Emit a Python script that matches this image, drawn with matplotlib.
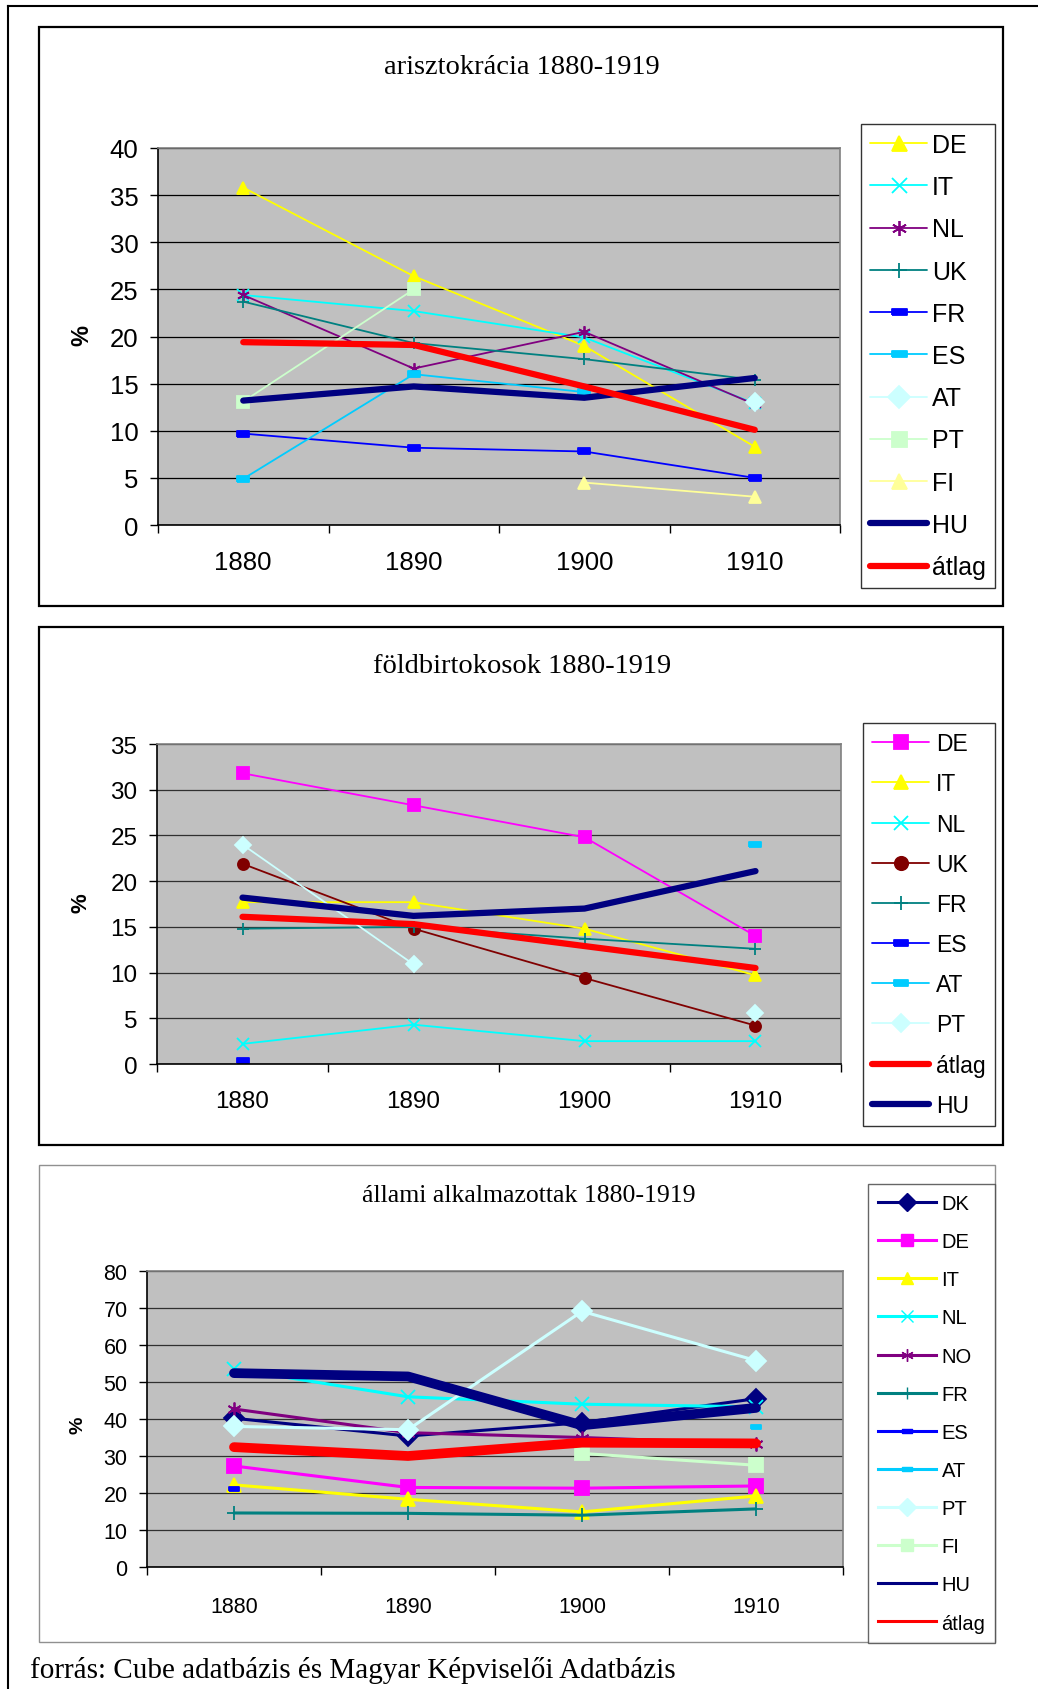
import numpy as np
import matplotlib.pyplot as plt
from matplotlib.patches import Rectangle
from matplotlib.lines import Line2D

nan = np.nan
years = ['1880', '1890', '1900', '1910']

# arisztokrácia 1880-1919
ar_DE = [35.8, 26.4, 19.0, 8.3]
ar_IT = [24.4, 22.7, 19.9, 12.9]
ar_NL = [24.4, 16.6, 20.5, 12.8]
ar_UK = [23.7, 19.3, 17.6, 15.4]
ar_FR = [9.7, 8.2, 7.8, 5.0]
ar_ES = [4.9, 16.0, 14.1, nan]
ar_AT = [nan, nan, nan, 13.0]
ar_PT = [13.1, 25.0, nan, nan]
ar_FI = [nan, nan, 4.5, 3.0]
ar_HU = [13.2, 14.7, 13.5, 15.6]
ar_atlag = [19.4, 19.1, 14.7, 10.1]

# földbirtokosok 1880-1919
fb_DE = [31.8, 28.3, 24.8, 14.0]
fb_IT = [17.7, 17.7, 14.8, 9.7]
fb_NL = [2.2, 4.3, 2.5, 2.5]
fb_UK = [21.9, 14.8, 9.4, 4.2]
fb_FR = [14.8, 15.0, 13.7, 12.6]
fb_ES = [0.4, nan, nan, nan]
fb_AT = [nan, nan, nan, 24.1]
fb_PT = [24.0, 10.9, nan, 5.6]
fb_atlag = [16.1, 15.3, 12.9, 10.5]
fb_HU = [18.2, 16.2, 17.0, 21.1]

# állami alkalmazottak 1880-1919
al_DK = [40.2, 35.4, 39.0, 45.5]
al_DE = [27.3, 21.5, 21.3, 21.9]
al_IT = [22.2, 18.3, 14.9, 19.2]
al_NL = [53.5, 46.0, 44.0, 43.3]
al_NO = [42.7, 36.3, 35.0, 33.3]
al_FR = [14.6, 14.5, 14.0, 15.7]
al_ES = [21.2, nan, nan, nan]
al_AT = [nan, nan, nan, 37.9]
al_PT = [38.0, 37.1, 69.1, 55.8]
al_FI = [nan, nan, 30.7, 27.5]
al_HU = [52.4, 51.5, 38.3, 43.0]
al_atlag = [32.4, 30.0, 33.6, 33.4]

W, H = 1038, 1690
SANS = 'Liberation Sans'
SERIF = 'Liberation Serif'
plt.rcParams['font.family'] = SANS

dash = [(-1, -0.45), (1, -0.45), (1, 0.45), (-1, 0.45), (-1, -0.45)]
aster = (6, 2, 0)


def fbox(x0, y0, x1, y1):
    return [x0 / W, 1 - y1 / H, (x1 - x0) / W, (y1 - y0) / H]


def frame(fig, x0, y0, x1, y1, color='black', lw=1.6):
    fig.add_artist(Rectangle((x0 / W, 1 - y1 / H), (x1 - x0) / W, (y1 - y0) / H,
                             transform=fig.transFigure, fill=False, ec=color, lw=lw))


def setup(ax, ymax, ystep, fs, padx, gridc='black'):
    ax.set_facecolor('#C0C0C0')
    ax.set_xlim(-0.5, 3.5)
    ax.set_ylim(0, ymax)
    ax.set_yticks(np.arange(0, ymax + 1, ystep))
    ax.set_xticks(range(4))
    ax.set_xticklabels(years)
    ax.set_xticks(np.arange(-0.5, 4, 1), minor=True)
    ax.tick_params(axis='x', which='major', length=0, pad=padx, labelsize=fs)
    ax.tick_params(axis='x', which='minor', length=6, width=1)
    ax.tick_params(axis='y', length=6, width=1, pad=8, labelsize=fs)
    ax.grid(axis='y', color=gridc, lw=0.9)
    ax.set_axisbelow(True)
    for s in ['top', 'right']:
        ax.spines[s].set_color('#808080')
        ax.spines[s].set_linewidth(1.2)
    for s in ['left', 'bottom']:
        ax.spines[s].set_linewidth(1.2)


def draw(ax, series, lw, ms, thick_lw=4.5, dash_ms=None):
    x = np.arange(4)
    handles = []
    for label, vals, color, marker, thick in series:
        w = thick_lw if thick else lw
        size = dash_ms if (dash_ms and marker is dash) else ms
        line, = ax.plot(x, vals, color=color, lw=w, marker=marker, ms=size,
                        mec=color, mfc=color, mew=1.3, label=label,
                        solid_capstyle='round', clip_on=False)
        handles.append(line)
    return handles


fig = plt.figure(figsize=(W / 100, H / 100), dpi=100)

# outer border
fig.add_artist(Line2D([8 / W, 8 / W], [0, 1 - 7 / H], transform=fig.transFigure, color='black', lw=1.5))
fig.add_artist(Line2D([8 / W, 1], [1 - 7 / H, 1 - 7 / H], transform=fig.transFigure, color='black', lw=1.5))

# ---- panel 1 ----
frame(fig, 39, 28, 1003, 607)
ax1 = fig.add_axes(fbox(158, 149, 840, 526))
setup(ax1, 40, 5, 18.5, 18)
s1 = [('DE', ar_DE, '#FFFF00', '^', False),
      ('IT', ar_IT, '#00FFFF', 'x', False),
      ('NL', ar_NL, '#800080', aster, False),
      ('UK', ar_UK, '#008080', '+', False),
      ('FR', ar_FR, '#0000FF', dash, False),
      ('ES', ar_ES, '#00CCFF', dash, False),
      ('AT', ar_AT, '#CCFFFF', 'D', False),
      ('PT', ar_PT, '#CCFFCC', 's', False),
      ('FI', ar_FI, '#FFFF99', '^', False),
      ('HU', ar_HU, '#000080', None, True),
      ('átlag', ar_atlag, '#FF0000', None, True)]
h1 = draw(ax1, s1, 1.3, 9)
fig.text(522 / W, 1 - 68 / H, 'arisztokrácia 1880-1919', ha='center', va='center',
         family=SERIF, fontsize=20.5)
fig.text(82 / W, 1 - 336 / H, '%', rotation=90, ha='center', va='center',
         fontsize=17, fontweight='bold')
lg1 = fig.legend(handles=h1, loc='upper left', bbox_to_anchor=(861 / W, 1 - 125 / H),
                 fontsize=18, numpoints=1, handlelength=2.3, handletextpad=0.2,
                 labelspacing=0.73, borderpad=0.35, borderaxespad=0, frameon=True,
                 fancybox=False, edgecolor='black', markerscale=1.2)
lg1.get_frame().set_linewidth(1.0)

# ---- panel 2 ----
frame(fig, 39, 628, 1003, 1146)
ax2 = fig.add_axes(fbox(157, 745, 841, 1065))
setup(ax2, 35, 5, 17.5, 19, gridc='#303030')
s2 = [('DE', fb_DE, '#FF00FF', 's', False),
      ('IT', fb_IT, '#FFFF00', '^', False),
      ('NL', fb_NL, '#00FFFF', 'x', False),
      ('UK', fb_UK, '#800000', 'o', False),
      ('FR', fb_FR, '#008080', '+', False),
      ('ES', fb_ES, '#0000FF', dash, False),
      ('AT', fb_AT, '#00CCFF', dash, False),
      ('PT', fb_PT, '#CCFFFF', 'D', False),
      ('átlag', fb_atlag, '#FF0000', None, True),
      ('HU', fb_HU, '#000080', None, True)]
h2 = draw(ax2, s2, 1.3, 8)
fig.text(522 / W, 1 - 667 / H, 'földbirtokosok 1880-1919', ha='center', va='center',
         family=SERIF, fontsize=20.5)
fig.text(81 / W, 1 - 903 / H, '%', rotation=90, ha='center', va='center',
         fontsize=16, fontweight='bold')
lg2 = fig.legend(handles=h2, loc='upper left', bbox_to_anchor=(863 / W, 1 - 724 / H),
                 fontsize=16.5, numpoints=1, handlelength=2.5, handletextpad=0.3,
                 labelspacing=0.75, borderpad=0.4, borderaxespad=0, frameon=True,
                 fancybox=False, edgecolor='black', markerscale=1.2)
lg2.get_frame().set_linewidth(1.0)

# ---- panel 3 ----
frame(fig, 39, 1166, 995, 1643, color='#909090', lw=1.0)
ax3 = fig.add_axes(fbox(147, 1272, 843, 1568))
setup(ax3, 80, 10, 15.5, 21, gridc='#303030')
s3 = [('DK', al_DK, '#000080', 'D', False),
      ('DE', al_DE, '#FF00FF', 's', False),
      ('IT', al_IT, '#FFFF00', '^', False),
      ('NL', al_NL, '#00FFFF', 'x', False),
      ('NO', al_NO, '#800080', aster, False),
      ('FR', al_FR, '#008080', '+', False),
      ('ES', al_ES, '#0000FF', dash, False),
      ('AT', al_AT, '#00CCFF', dash, False),
      ('PT', al_PT, '#CCFFFF', 'D', False),
      ('FI', al_FI, '#CCFFCC', 's', False),
      ('HU', al_HU, '#000080', None, True),
      ('átlag', al_atlag, '#FF0000', None, True)]
h3 = draw(ax3, s3, 2.2, 10, thick_lw=7, dash_ms=7)
fig.text(529 / W, 1 - 1196 / H, 'állami alkalmazottak 1880-1919', ha='center', va='center',
         family=SERIF, fontsize=18.5)
fig.text(78 / W, 1 - 1425 / H, '%', rotation=90, ha='center', va='center',
         fontsize=14, fontweight='bold')
# legend shows thin lines for HU and átlag
lh3 = [Line2D([], [], color=c, lw=2.2, marker=m, ms=7 if m is dash else 9, mec=c, mfc=c)
       for (_, _, c, m, t) in s3]
lg3 = fig.legend(handles=lh3, labels=[s[0] for s in s3], loc='upper left',
                 bbox_to_anchor=(868 / W, 1 - 1185 / H),
                 fontsize=14.5, numpoints=1, handlelength=2.9, handletextpad=0.25,
                 labelspacing=0.95, borderpad=0.5, borderaxespad=0, frameon=True,
                 fancybox=False, edgecolor='#404040')
lg3.get_frame().set_linewidth(1.0)

fig.text(30 / W, 1 - 1671 / H, 'forrás: Cube adatbázis és Magyar Képviselői Adatbázis',
         ha='left', va='center', family=SERIF, fontsize=21)

fig.savefig('out.png', dpi=100)
